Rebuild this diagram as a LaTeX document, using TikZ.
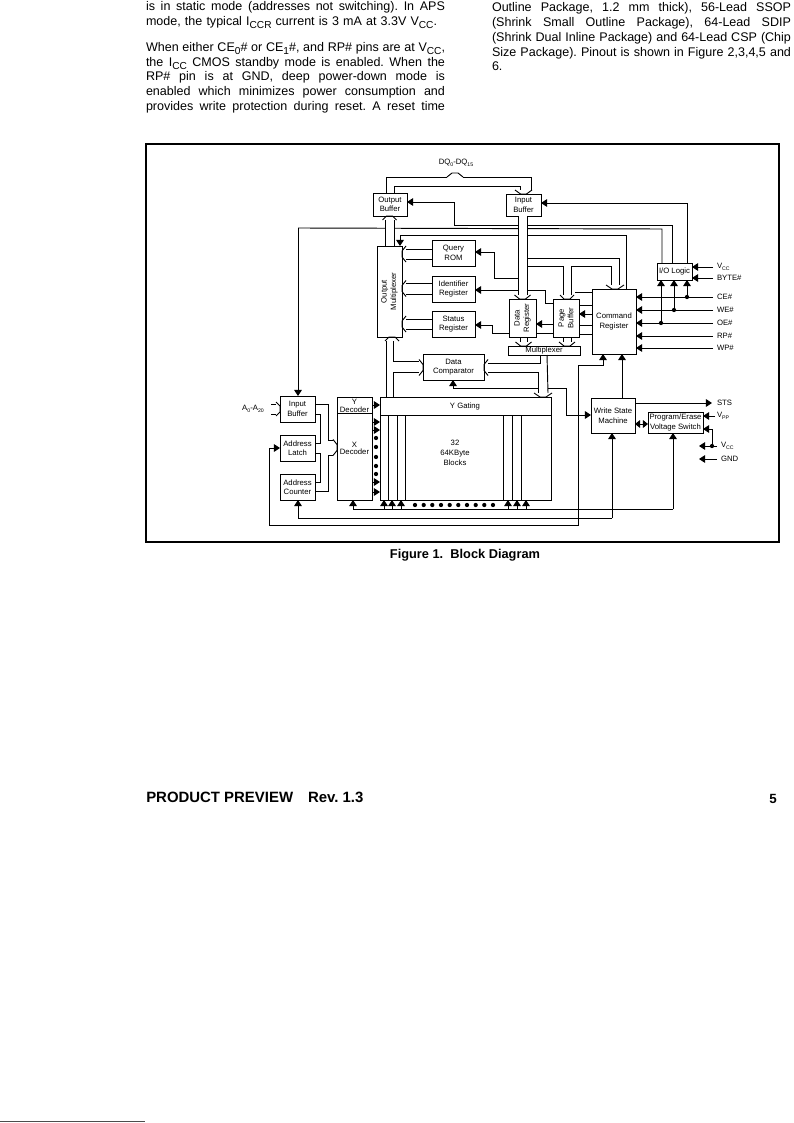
\documentclass[tikz,border=0pt]{standalone}
\usepackage{fontspec}
\setmainfont{Liberation Sans}
\usetikzlibrary{arrows.meta}
\frenchspacing
\newcommand\bx[6]{\pgfmathsetmacro\bw{(#4-#2)*0.75}\pgfmathsetmacro\bh{(#5-#3)*0.75}\node[bxs,minimum width=\bw pt,minimum height=\bh pt] (#1) at ({(#2+#4)/2},{(#3+#5)/2}) {#6};}
% open bus heads: centre, base, half-width; tip is 4 px past the base
\newcommand\hdD[3]{\draw[ln] ({#1-#3},#2) -- ({#1-3},{#2+4}) -- ({#1+3},{#2+4}) -- ({#1+#3},#2);}
\newcommand\hdU[3]{\draw[ln] ({#1-#3},#2) -- ({#1-3},{#2-4}) -- ({#1+3},{#2-4}) -- ({#1+#3},#2);}
\newcommand\hdL[3]{\draw[ln] (#2,{#1-#3}) -- ({#2-4},{#1-3}) -- ({#2-4},{#1+3}) -- (#2,{#1+#3});}
\newcommand\hdR[3]{\draw[ln] (#2,{#1-#3}) -- ({#2+4},{#1-3}) -- ({#2+4},{#1+3}) -- (#2,{#1+#3});}
\newcommand\busv[4]{\fill[white] (#1,#3) rectangle (#2,#4); \draw[ln] (#1,#3) -- (#1,#4) (#2,#3) -- (#2,#4);}
\newcommand\sbs[1]{\raisebox{-.45ex}{\fontsize{7.6}{8}\selectfont #1}}
\newcommand\ssb[1]{\raisebox{-.35ex}{\fontsize{3.9}{4}\selectfont #1}}
\newcommand\tj[5]{\node[body] (#1) at (#2,#3) {\makebox[\dimexpr #4pt*3/4\relax][s]{#5}};}
\newcommand\tn[4]{\node[body] (#1) at (#2,#3) {#4};}
\tikzset{
 ln/.style={line width=0.7pt,black,line join=miter},
 fa/.style={ln,-{Triangle[length=4.6pt,width=5.8pt]}},
 da/.style={ln,{Triangle[length=3.8pt,width=5.8pt]}-{Triangle[length=3.8pt,width=5.8pt]}},
 bxs/.style={draw=black,line width=0.7pt,fill=white,inner sep=0pt,outer sep=0pt,align=center,font=\fontsize{5.8}{7.1}\selectfont},
 lab/.style={inner sep=0pt,outer sep=0pt,align=center,font=\fontsize{5.8}{7.1}\selectfont},
 pin/.style={lab,anchor=west},
 body/.style={inner sep=0pt,outer sep=0pt,anchor=base west,font=\fontsize{9.4}{10}\selectfont},
 dotm/.style={circle,fill=black,inner sep=0pt,minimum size=3.2pt}
}
\begin{document}
\begin{tikzpicture}[x=0.75pt,y=-0.75pt]
\useasboundingbox (0,0) rectangle (793,1123);
\fill[white] (0,0) rectangle (793,1123);
% page text
\tj{l1}{146}{11}{299}{is in static mode (addresses not switching). In APS}
\tj{l2}{146}{26}{291}{mode, the typical I\sbs{CCR} current is 3 mA at 3.3V V\sbs{CC}.}
\tj{l3}{146}{52}{299}{When either CE\sbs{0}\# or CE\sbs{1}\#, and RP\# pins are at V\sbs{CC},}
\tj{l4}{146}{67}{299}{the I\sbs{CC} CMOS standby mode is enabled. When the}
\tj{l5}{146}{81}{299}{RP\# pin is at GND, deep power-down mode is}
\tj{l6}{146}{96}{299}{enabled which minimizes power consumption and}
\tj{l7}{146}{111}{299}{provides write protection during reset. A reset time}
\tj{r1}{492}{12}{299}{Outline Package, 1.2 mm thick), 56-Lead SSOP}
\tj{r2}{492}{27}{299}{(Shrink Small Outline Package), 64-Lead SDIP}
\tj{r3}{492}{42}{299}{(Shrink Dual Inline Package) and 64-Lead CSP (Chip}
\tj{r4}{492}{57}{299}{Size Package). Pinout is shown in Figure 2,3,4,5 and}
\tn{r5}{492}{71}{6.}
% frame
\node[draw=black,line width=1.6pt,minimum width=474.75pt,minimum height=298.5pt,inner sep=0pt] (frame) at (462.5,343) {};
% boxes
\bx{obuf}{373}{193}{407}{216}{Output\\Buffer}
\bx{ibuf}{506}{194}{541}{216}{Input\\Buffer}
\bx{omux}{377}{246}{402}{337}{}
\bx{qrom}{432}{240}{475}{266}{Query\\ROM}
\bx{idreg}{432}{276}{475}{302}{Identifier\\Register}
\bx{sreg}{432}{311}{475}{337}{Status\\Register}
\bx{dreg}{509}{299}{536}{337}{}
\bx{pbuf}{553}{299}{579}{337}{}
\bx{creg}{592}{289}{636}{354}{Command\\Register}
\bx{muxb}{508}{346}{580}{355}{\raisebox{0.3pt}{Multiplexer}}
\bx{dcomp}{423}{354}{484}{380}{Data\\Comparator}
\bx{iol}{657}{263}{692}{280}{I/O Logic}
\bx{arr}{380}{397}{551}{500}{}
\bx{dec}{337}{397}{372}{500}{}
\bx{abuf}{280}{396}{315}{422}{Input\\Buffer}
\bx{alat}{280}{435}{315}{461}{Address\\Latch}
\bx{acnt}{280}{474}{315}{500}{Address\\Counter}
\bx{wsm}{591}{398}{635}{433}{Write State\\Machine}
\bx{pes}{648}{412}{703}{433}{Program/Erase\\Voltage Switch}
\node[lab,rotate=90] (omuxt) at (omux.center) {Output\\Multiplexer};
\node[lab,rotate=90] (dregt) at (dreg.center) {Data\\Register};
\node[lab,rotate=90] (pbuft) at (pbuf.center) {Page\\Buffer};
\node[lab] (ygt) at (465,406) {Y Gating};
\node[lab,font=\fontsize{5.8}{7.5}\selectfont] (blk) at (455,453) {32\\64KByte\\Blocks};
\node[lab,font=\fontsize{5.8}{5.6}\selectfont] (ydt) at (354.5,405.8) {Y\\Decoder};
\node[lab,font=\fontsize{5.8}{5.6}\selectfont] (xdt) at (354.5,448.5) {X\\Decoder};
\node[lab] (dq) at (456,163) {DQ\ssb{0}-DQ\ssb{15}};
\node[lab] (aa) at (253,409) {A\ssb{0}-A\ssb{20}};
% block interior
\draw[ln] (arr.west |- 0,415) -- (arr.east |- 0,415);
\draw[ln] (dec.west |- 0,413) -- (dec.east |- 0,413);
\foreach \x in {388,397,405,503,512,521} \draw[ln] (\x,415) -- (\x,0 |- arr.south);
% long control lines (under the buses)
\draw[fa] (298,228) -- (298,0 |- abuf.north);
\draw[ln] (298,228) -- (662,229) -- (662,0 |- iol.north);
\draw[ln] (iol.north -| 672,0) -- (672,225) -- (454,225) -- (454,202);
\draw[fa] (454,202) -- (obuf.east |- 0,202);
\draw[fa] (687,0 |- iol.north) -- (687,203) -- (ibuf.east |- 0,203);
\draw[fa] (626,0 |- creg.north) -- (626,235) -- (400,235) -- (400,0 |- omux.north);
\draw[fa] (518,278) -- (494,278) -- (494,252) -- (qrom.east |- 0,252);
\draw[fa] (pbuf.west |- 0,303) -- (545,303) -- (545,290) -- (idreg.east |- 0,290);
\draw[fa] (dreg.west |- 0,333) -- (492,333) -- (492,325) -- (sreg.east |- 0,325);
\draw[fa] (pbuf.west |- 0,324) -- (dreg.east |- 0,324);
\draw[ln] (pbuf.west |- 0,333) -- (dreg.east |- 0,333);
\draw[fa] (creg.west |- 0,314) -- (pbuf.east |- 0,314);
\foreach \y in {305,325,334} \draw[ln] (creg.west |- 0,\y) -- (pbuf.east |- 0,\y);
\draw[ln] (creg.west |- 0,292) -- (575,292);
% DQ bus
\draw[ln] (386,0 |- obuf.north) -- (386,177) -- (447,177);
\draw[ln] (463,177) -- (531,177) -- (531,190);
\draw[ln] (394,0 |- obuf.north) -- (394,186) -- (520,186) -- (520,190);
\hdU{455}{177}{8}
\hdD{523.5}{190}{8.5}
% obuf <-> omux bus
\busv{385}{394}{220}{246}
\hdU{389.5}{220}{7}
% ibuf -> dreg bus
\busv{518}{527}{216}{295}
\hdD{522.5}{295}{8}
\draw[ln] (527,258) -- (619,258) -- (619,285);
\draw[ln] (571,295) -- (571,266) -- (611,266) -- (611,285);
\hdD{615}{285}{9}
\draw[ln] (527,266) -- (563,266) -- (563,295);
\hdD{567}{295}{7}
% registers to output mux
\foreach \a/\b/\n in {249/259/qrom,283/294/idreg,319/329/sreg}{
  \draw[ln] (\n.west |- 0,\a) -- (406,\a);
  \draw[ln] (\n.west |- 0,\b) -- (406,\b);
  \pgfmathsetmacro\m{(\a+\b)/2}
  \hdL{\m}{406}{8}
}
% dreg, pbuf to multiplexer
\draw[ln] (520,0 |- dreg.south) -- (520,342) (527,0 |- dreg.south) -- (527,342);
\hdD{523.5}{342}{8}
\draw[ln] (563,0 |- pbuf.south) -- (563,342) (571,0 |- pbuf.south) -- (571,342);
\hdD{567}{342}{8}
% multiplexer, comparator, Y gating
\draw[ln] (540,0 |- muxb.south) -- (540,363) -- (488,363);
\draw[ln] (488,372) -- (538,372) -- (538,393);
\hdR{367.5}{419}{8}
\hdL{367.5}{488}{8}
\draw[ln] (547,0 |- muxb.south) -- (548,393);
\hdD{543}{393}{9}
\draw[fa] (538,388) -- (453,388) -- (453,0 |- dcomp.south);
\draw[fa] (548,388) -- (566,388) -- (566,415) -- (wsm.west |- 0,415);
\draw[ln] (386,341) -- (386,0 |- arr.north);
\draw[ln] (393,341) -- (393,361) -- (419,361);
\draw[ln] (393,0 |- arr.north) -- (393,372) -- (419,372);
\hdU{392}{341}{7}
% address section
\draw[ln] (271,404) -- (276,404) (271,414) -- (276,414);
\hdR{409}{276}{7}
\draw[ln] (abuf.east |- 0,404) -- (328,404) -- (328,440);
\draw[ln] (abuf.east |- 0,414) -- (320,414) -- (320,443) -- (alat.east |- 0,443);
\draw[ln] (alat.east |- 0,453) -- (320,453) -- (320,482) -- (acnt.east |- 0,482);
\draw[ln] (acnt.east |- 0,491) -- (328,491) -- (328,455);
\hdR{447.5}{333}{8}
\draw[ln] (328,440) -- (333,440) (328,455) -- (333,455);
% decoder to array
\foreach \y in {405,422,430,482,492} \draw[fa] (dec.east |- 0,\y) -- (arr.west |- 0,\y);
\foreach \y in {438,447,457,466,474} \node[dotm] at (376,\y) {};
% bottom rows
\foreach \x in {384,392,401,508,517,526} \draw[fa] (\x,509) -- (\x,0 |- arr.south);
\foreach \x in {415,423.7,432.3,441,449.7,458.3,467,475.7,484.3,493} \node[dotm] at (\x,505) {};
\draw[fa] (673,509) -- (353,509) -- (353,0 |- dec.south);
\draw[fa] (673,509) -- (673,0 |- pes.south);
\draw[fa] (612,518) -- (298,518) -- (298,0 |- acnt.south);
\draw[fa] (612,518) -- (612,0 |- wsm.south);
\draw[fa] (578,365) -- (603,365) -- (603,0 |- creg.south);
\draw[fa] (578,365) -- (578,525) -- (269,525) -- (269,448) -- (alat.west |- 0,448);
\draw[fa] (622,0 |- wsm.north) -- (622,0 |- creg.south);
% right pins
\draw[fa] (713,267) -- (iol.east |- 0,267);
\draw[fa] (713,278) -- (iol.east |- 0,278);
\foreach \y in {297,310,323,336,348} \draw[fa] (713,\y) -- (creg.east |- 0,\y);
\node[dotm] (d1) at (687,297) {}; \node[dotm] (d2) at (674,310) {}; \node[dotm] (d3) at (661,323) {};
\draw[fa] (d1) -- (687,0 |- iol.south);
\draw[fa] (d2) -- (674,0 |- iol.south);
\draw[fa] (d3) -- (661,0 |- iol.south);
\node[pin] (p1) at (717,267) {V\ssb{CC}};
\node[pin] (p2) at (717,278) {BYTE\#};
\node[pin] (p3) at (717,297) {CE\#};
\node[pin] (p4) at (717,310) {WE\#};
\node[pin] (p5) at (717,323) {OE\#};
\node[pin] (p6) at (717,336) {RP\#};
\node[pin] (p7) at (717,348) {WP\#};
% write state / voltage switch
\draw[fa] (wsm.east |- 0,403) -- (712,403);
\draw[da] (wsm.east |- 0,424) -- (pes.west |- 0,424);
\draw[fa] (715,416) -- (pes.east |- 0,416);
\node[dotm] (d4) at (712,446) {};
\draw[fa] (d4) -- (712,429) -- (pes.east |- 0,429);
\draw[fa] (717,446) -- (699,446);
\draw[fa] (717,459) -- (699,459);
\node[pin] (p8) at (717,403) {STS};
\node[pin] (p9) at (717,416) {V\ssb{PP}};
\node[pin] (p10) at (721,446) {V\ssb{CC}};
\node[pin] (p11) at (721,459) {GND};
% caption and footer
\node[inner sep=0pt,font=\fontsize{9.6}{10}\selectfont\bfseries] (cap) at (465,555) {Figure 1.\ \ Block Diagram};
\node[inner sep=0pt,anchor=west,font=\fontsize{11.2}{12}\selectfont\bfseries] (foot) at (146,797) {PRODUCT PREVIEW\quad Rev. 1.3};
\node[inner sep=0pt,font=\fontsize{10}{12}\selectfont\bfseries] (pg) at (773,799) {5};
\draw[line width=0.6pt,black!70] (0,1121) -- (145,1121);
\end{tikzpicture}
\end{document}
